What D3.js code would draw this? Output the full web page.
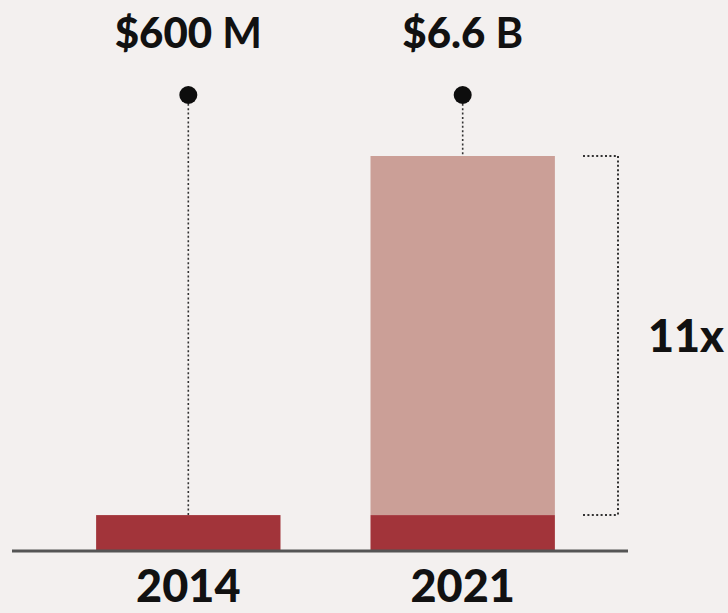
<!DOCTYPE html>
<html>
<head>
<meta charset="utf-8">
<script src="https://cdn.jsdelivr.net/npm/d3@7"></script>
<style>
  html, body { margin: 0; padding: 0; background: #f3f0ef; }
  svg { display: block; }
  text { font-family: Lato, "Open Sans", sans-serif; fill: #111; }
</style>
</head>
<body>
<svg id="chart" width="728" height="613"></svg>
<script>
// Funding totals, in billions of dollars
const years = ["2014", "2021"];
const baseValues = [0.6, 0.6];     // dark segment: the 2014 level
const totalValues = [0.6, 6.6];    // full height of each bar
const valueLabels = ["$600", "$6.6"];
const unitLabels = ["M", "B"];
const multipleLabel = "11x";

const svg = d3.select("#chart");
const baseline = 551;

const x = d3.scaleBand()
  .domain(years)
  .range([13.8, 637.2])
  .paddingInner(0.328)
  .paddingOuter(0.3);

const y = d3.scaleLinear()
  .domain([0, 6.6])
  .range([baseline, 156]);

const dark = "#a2343a";
const light = "#cb9f97";
const dotY = 95;

const rows = years.map((yr, i) => ({
  year: yr, base: baseValues[i], total: totalValues[i],
  value: valueLabels[i], unit: unitLabels[i]
}));
const cx = d => x(d.year) + x.bandwidth() / 2;

// light growth segment
svg.selectAll("rect.total")
  .data(rows.filter(d => d.total > d.base))
  .join("rect")
  .attr("class", "total")
  .attr("x", d => x(d.year))
  .attr("width", x.bandwidth())
  .attr("y", d => y(d.total))
  .attr("height", d => y(d.base) - y(d.total))
  .attr("fill", light);

// dark base segment
svg.selectAll("rect.base")
  .data(rows)
  .join("rect")
  .attr("class", "base")
  .attr("x", d => x(d.year))
  .attr("width", x.bandwidth())
  .attr("y", d => y(d.base))
  .attr("height", d => y(0) - y(d.base))
  .attr("fill", dark);

// axis line
svg.append("line")
  .attr("x1", 12).attr("x2", 628)
  .attr("y1", baseline).attr("y2", baseline)
  .attr("stroke", "#555").attr("stroke-width", 3);

// leader lines and dots
svg.selectAll("line.leader")
  .data(rows)
  .join("line")
  .attr("class", "leader")
  .attr("x1", cx)
  .attr("x2", cx)
  .attr("y1", dotY)
  .attr("y2", d => y(d.total))
  .attr("stroke", "#333")
  .attr("stroke-width", 1.6)
  .attr("stroke-dasharray", "2,2.4");

svg.selectAll("circle.dot")
  .data(rows)
  .join("circle")
  .attr("cx", cx)
  .attr("cy", dotY)
  .attr("r", 9)
  .attr("fill", "#0d0d0d");

// value labels
const vl = svg.selectAll("text.value")
  .data(rows)
  .join("text")
  .attr("class", "value")
  .attr("x", cx)
  .attr("y", 48)
  .attr("text-anchor", "middle")
  .style("font-size", "42px");
vl.append("tspan").style("font-weight", 900).text(d => d.value);
vl.append("tspan").style("font-weight", 700).attr("dx", 10).text(d => d.unit);

// year labels
svg.selectAll("text.year")
  .data(rows)
  .join("text")
  .attr("class", "year")
  .attr("x", cx)
  .attr("y", 602)
  .attr("text-anchor", "middle")
  .style("font-size", "45px")
  .style("font-weight", 900)
  .text(d => d.year);

// bracket showing the multiple between the two totals
const bx = 618, bl = 583;
const top2021 = y(totalValues[1]);
const base2021 = y(baseValues[1]);
const bracket = svg.append("g")
  .attr("fill", "none")
  .attr("stroke", "#333")
  .attr("stroke-width", 2)
  .attr("stroke-dasharray", "2,2.4");
bracket.append("line").attr("x1", bl).attr("x2", bx).attr("y1", top2021).attr("y2", top2021);
bracket.append("line").attr("x1", bl).attr("x2", bx).attr("y1", base2021).attr("y2", base2021);
bracket.append("line").attr("x1", bx).attr("x2", bx).attr("y1", top2021).attr("y2", base2021);

svg.append("text")
  .attr("x", 686)
  .attr("y", (top2021 + base2021) / 2 + 16)
  .attr("text-anchor", "middle")
  .style("font-size", "45px")
  .style("font-weight", 900)
  .text(multipleLabel);
</script>
</body>
</html>
